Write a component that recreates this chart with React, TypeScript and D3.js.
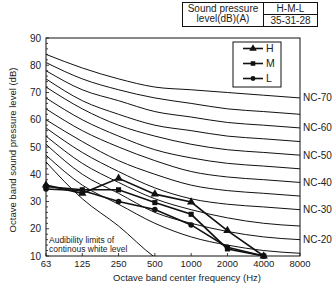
import * as d3 from 'd3';
import { useEffect, useRef } from 'react';

// octave band centre frequencies (x categories)
const bands = ['63', '125', '250', '500', '1000', '2000', '4000', '8000'];
const yTicks = [10, 20, 30, 40, 50, 60, 70, 80, 90];

// NC curves, values per band
const ncNames = ['NC-70', 'NC-65', 'NC-60', 'NC-55', 'NC-50', 'NC-45', 'NC-40', 'NC-35', 'NC-30', 'NC-25', 'NC-20', 'NC-15'];
const ncValues = [
    [84, 79, 75, 72, 71, 70, 69, 68],
    [81, 75, 71, 68, 66, 64, 63, 62],
    [78, 71, 67, 63, 61, 59, 58, 57],
    [75, 67, 62, 58, 56, 54, 53, 52],
    [72, 64, 58, 54, 51, 49, 48, 47],
    [68, 60, 54, 49, 46, 44, 43, 42],
    [64, 56, 50, 45, 41, 39, 38, 37],
    [60, 52, 45, 40, 36, 34, 33, 32],
    [57, 48, 41, 35, 31, 29, 28, 27],
    [54, 44, 37, 31, 27, 24, 22, 21],
    [51, 40, 33, 26, 22, 19, 17, 16],
    [47, 36, 29, 22, 17, 14, 12, 11],
];
const ncLabelled = ['NC-70', 'NC-60', 'NC-50', 'NC-40', 'NC-30', 'NC-20'];

// audibility limit of continuous white noise
const audibility = [44.5, 31, 21, 9.5, 2];

// measured unit levels
const seriesNames = ['H', 'M', 'L'];
const hValues = [36, 33, 38.5, 32.7, 29.8, 19.3, 10];
const mValues = [35.5, 34.3, 34.3, 29.6, 25.3, 12.6, 10];
const lValues = [34.6, 34, 30, 27.1, 21.4, 13.2, 10];

const tableHead = ['Sound pressure', 'level(dB)(A)'];
const tableCols = ['H-M-L', '35-31-28'];

export default function App() {
    const chartRef = useRef(null);

    useEffect(() => {
        const width = 335;
        const height = 286;
        const left = 46, right = 300, top = 38, bottom = 256;
        const font = 'Liberation Sans, Arial, sans-serif';

        const x = d3.scalePoint().domain(bands).range([left, right]);
        const y = d3.scaleLinear().domain([10, 90]).range([bottom, top]);

        const svg = d3
            .select(chartRef.current)
            .append('svg')
            .attr('width', width)
            .attr('height', height)
            .style('position', 'absolute')
            .style('left', 0)
            .style('top', 0)
            .style('background', '#fff')
            .style('font-family', font);

        svg.append('defs').append('clipPath').attr('id', 'plot-clip')
            .append('rect').attr('x', left).attr('y', top)
            .attr('width', right - left).attr('height', bottom - top);

        const plot = svg.append('g').attr('clip-path', 'url(#plot-clip)');

        const curve = d3
            .line<number>()
            .x((d, i) => x(bands[i]) as number)
            .y((d) => y(d))
            .curve(d3.curveMonotoneX);

        // NC curves
        ncValues.forEach((vals) => {
            plot.append('path')
                .attr('d', curve(vals))
                .attr('fill', 'none')
                .attr('stroke', '#111')
                .attr('stroke-width', 1);
        });

        // audibility limit
        plot.append('path')
            .attr('d', curve(audibility))
            .attr('fill', 'none')
            .attr('stroke', '#111')
            .attr('stroke-width', 1);

        // frame
        svg.append('rect')
            .attr('x', left).attr('y', top)
            .attr('width', right - left).attr('height', bottom - top)
            .attr('fill', 'none').attr('stroke', '#111').attr('stroke-width', 1);

        // y axis ticks + minor ticks inside
        d3.range(10, 91, 2).forEach((v) => {
            svg.append('line')
                .attr('x1', left).attr('x2', left + (v % 10 === 0 ? 3 : 2))
                .attr('y1', y(v)).attr('y2', y(v))
                .attr('stroke', '#111').attr('stroke-width', 0.8);
        });
        svg.append('g').selectAll('text').data(yTicks).join('text')
            .attr('x', left - 5)
            .attr('y', (d) => y(d))
            .attr('dy', '0.35em')
            .attr('text-anchor', 'end')
            .style('font-size', '10px')
            .attr('fill', '#222')
            .text((d) => d);

        // x axis ticks
        svg.append('g').selectAll('line').data(bands).join('line')
            .attr('x1', (d) => x(d) as number).attr('x2', (d) => x(d) as number)
            .attr('y1', bottom).attr('y2', bottom - 3)
            .attr('stroke', '#111').attr('stroke-width', 0.8);
        svg.append('g').selectAll('text').data(bands).join('text')
            .attr('x', (d) => x(d) as number)
            .attr('y', bottom + 11)
            .attr('text-anchor', 'middle')
            .style('font-size', '9.5px')
            .attr('fill', '#222')
            .text((d) => d);

        // NC labels on the right
        ncNames.forEach((name, i) => {
            if (!ncLabelled.includes(name)) return;
            const vals = ncValues[i];
            svg.append('text')
                .attr('x', right + 3)
                .attr('y', y(vals[vals.length - 1]))
                .attr('dy', '0.35em')
                .style('font-size', '10px')
                .attr('fill', '#222')
                .text(name);
        });

        // audibility note
        const note = svg.append('text')
            .attr('x', left + 3)
            .style('font-size', '8.5px')
            .attr('fill', '#222');
        note.append('tspan').attr('x', left + 3).attr('y', 243).text('Audibility limits of');
        note.append('tspan').attr('x', left + 3).attr('y', 252).text('continous white level');

        // measured series
        const seriesLine = d3
            .line<number>()
            .x((d, i) => x(bands[i]) as number)
            .y((d) => y(d));
        const allSeries = [hValues, mValues, lValues];
        const symbols = [d3.symbolTriangle, d3.symbolSquare, d3.symbolCircle];
        const symSize = [30, 26, 24];

        allSeries.forEach((vals, si) => {
            svg.append('path')
                .attr('d', seriesLine(vals))
                .attr('fill', 'none')
                .attr('stroke', '#111')
                .attr('stroke-width', 1.6);
            svg.append('g').selectAll('path').data(vals).join('path')
                .attr('transform', (d, i) => `translate(${x(bands[i])},${y(d)})`)
                .attr('d', d3.symbol().type(symbols[si]).size(symSize[si]))
                .attr('fill', '#111');
        });

        // legend
        const lg = svg.append('g');
        lg.append('rect')
            .attr('x', 233).attr('y', 42).attr('width', 48).attr('height', 45)
            .attr('fill', '#fff').attr('stroke', '#111').attr('stroke-width', 1);
        seriesNames.forEach((name, i) => {
            const ly = 48.5 + i * 15;
            lg.append('line')
                .attr('x1', 243).attr('x2', 263).attr('y1', ly).attr('y2', ly)
                .attr('stroke', '#111').attr('stroke-width', 1.6);
            lg.append('path')
                .attr('transform', `translate(253,${ly})`)
                .attr('d', d3.symbol().type(symbols[i]).size(symSize[i] * 0.8))
                .attr('fill', '#111');
            lg.append('text')
                .attr('x', 266).attr('y', ly).attr('dy', '0.35em')
                .style('font-size', '10.5px').attr('fill', '#222')
                .text(name);
        });

        // axis titles
        svg.append('text')
            .attr('x', 187).attr('y', 281)
            .attr('text-anchor', 'middle')
            .style('font-size', '9.5px').attr('fill', '#222')
            .text('Octave band center frequency (Hz)');
        svg.append('text')
            .attr('transform', 'translate(16,150) rotate(-90)')
            .attr('text-anchor', 'middle')
            .style('font-size', '9.5px').attr('fill', '#222')
            .text('Octave band sound pressure level (dB)');

        // sound pressure table
        const tb = svg.append('g').attr('stroke', '#111').attr('stroke-width', 1).attr('fill', 'none');
        tb.append('rect').attr('x', 182.5).attr('y', 2.5).attr('width', 135).attr('height', 24);
        tb.append('line').attr('x1', 263.5).attr('x2', 263.5).attr('y1', 2.5).attr('y2', 26.5);
        tb.append('line').attr('x1', 263.5).attr('x2', 317.5).attr('y1', 14.5).attr('y2', 14.5);
        tableHead.forEach((t, i) => {
            svg.append('text')
                .attr('x', 223).attr('y', 12 + i * 9.5)
                .attr('text-anchor', 'middle')
                .style('font-size', '10px').attr('fill', '#222')
                .text(t);
        });
        tableCols.forEach((t, i) => {
            svg.append('text')
                .attr('x', 290.5).attr('y', 11.5 + i * 12.5)
                .attr('text-anchor', 'middle')
                .style('font-size', '10px').attr('fill', '#222')
                .text(t);
        });

        return () => {
            d3.select(chartRef.current).selectAll('*').remove();
        };
    }, []);

    return <div ref={chartRef}></div>;
}
